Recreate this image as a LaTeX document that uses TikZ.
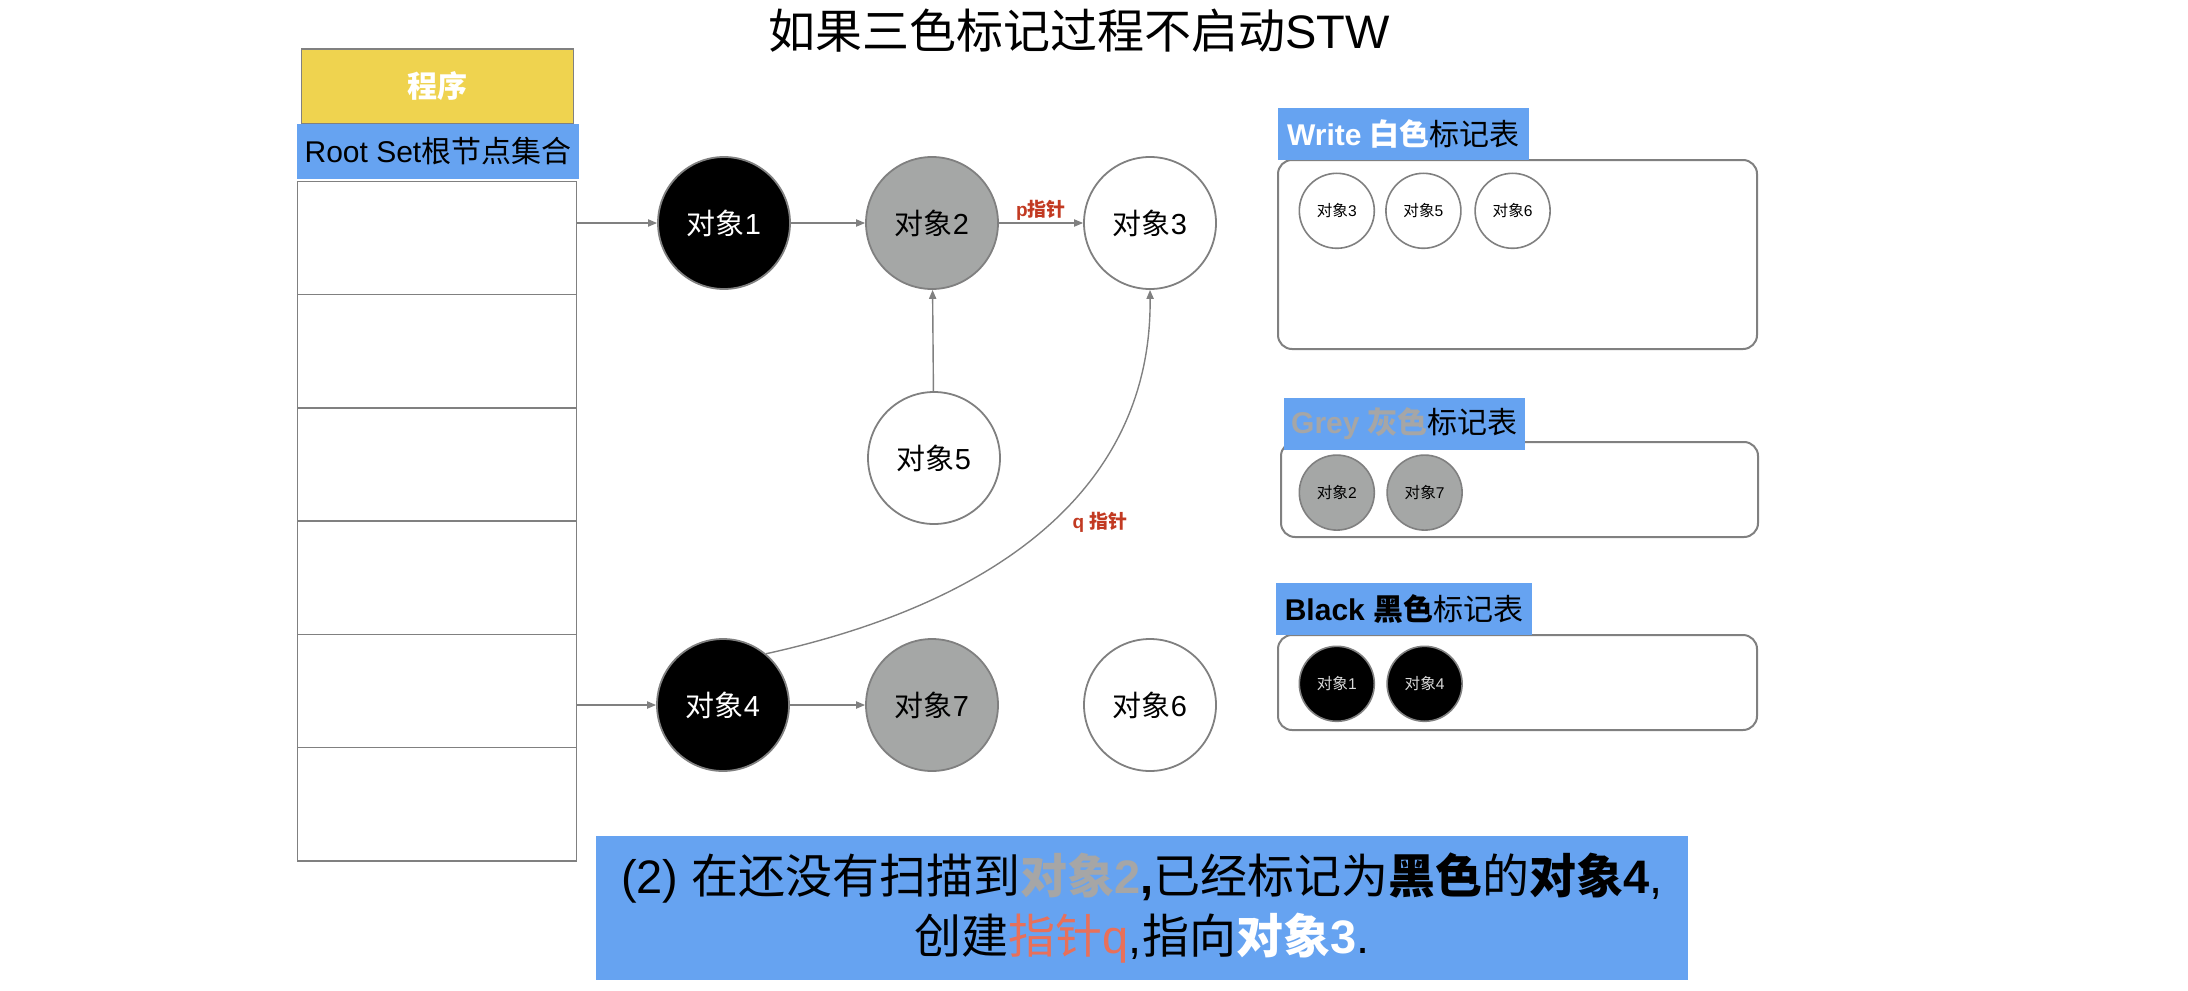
\documentclass[tikz,border=0pt]{standalone}
\usepackage{fontspec}
\setmainfont{Liberation Sans}
\newfontfamily\cjk{Noto Sans CJK SC}
\usetikzlibrary{arrows.meta}
\definecolor{progyellow}{HTML}{EFD34F}
\definecolor{lblblue}{HTML}{66A3F1}
\definecolor{objgrey}{HTML}{A5A7A6}
\definecolor{linegrey}{HTML}{808080}
\definecolor{ptrred}{HTML}{C23A22}
\definecolor{coral}{HTML}{E8705A}
\definecolor{txtgrey}{HTML}{A6A6A6}
\newcommand\zh[1]{{\cjk #1}}
\begin{document}
\begin{tikzpicture}[x=1pt,y=-1pt,
  obj/.style={circle, draw=linegrey, line width=0.9pt, minimum size=66pt, inner sep=0pt, font=\fontsize{14.5}{16}\selectfont},
  whiteobj/.style={obj, fill=white, text=black},
  greyobj/.style={obj, fill=objgrey, text=black},
  blackobj/.style={obj, fill=black, text=white},
  mini/.style={circle, draw=linegrey, line width=0.8pt, minimum size=37.5pt, inner sep=0pt, font=\fontsize{7.8}{9}\selectfont},
  miniwhite/.style={mini, fill=white, text=black},
  minigrey/.style={mini, fill=objgrey, text=black},
  miniblack/.style={mini, fill=black, text=white!85!black},
  rowbox/.style={draw=linegrey, line width=0.7pt, minimum width=139.6pt, minimum height=56.63pt, inner sep=0pt},
  arr/.style={draw=linegrey, line width=0.7pt, -{Triangle[length=4.5pt,width=3.6pt]}},
  ptr/.style={text=ptrred, font=\bfseries\fontsize{9.5}{11}\selectfont, inner sep=1pt},
  tlabel/.style={fill=lblblue, inner sep=0pt, minimum height=26pt, font=\fontsize{15}{17}\selectfont},
  tbox/.style={draw=linegrey, line width=1pt, rounded corners=7pt, fill=white, inner sep=0pt}
]
\useasboundingbox (0,0) rectangle (1094,495);

% title
\node[font=\fontsize{23.5}{26}\selectfont] (title) at (539.5,15.5) {\zh{如果三色标记过程不启动}STW};

% program and root set
\node[fill=progyellow, draw=linegrey, line width=0.8pt, minimum width=136pt, minimum height=37.7pt, text=white, font=\bfseries\fontsize{15}{17}\selectfont] (prog) at (218.75,43.25) {\zh{程序}};
\node[fill=lblblue, minimum width=141pt, minimum height=27.2pt, inner sep=0pt, font=\fontsize{15}{17}\selectfont] (root) at (219,75.7) {Root Set\zh{根节点集合}};

% table rows
\foreach \i in {1,...,6} {
  \node[rowbox] (row\i) at (218.4,{90.7+(\i-0.5)*56.63}) {};
}

% objects
\node[blackobj] (obj1) at (362,111.5) {\zh{对象}1};
\node[greyobj]  (obj2) at (466,111.5) {\zh{对象}2};
\node[whiteobj] (obj3) at (575,111.5) {\zh{对象}3};
\node[whiteobj] (obj5) at (467,229) {\zh{对象}5};
\node[blackobj] (obj4) at (361.5,352.5) {\zh{对象}4};
\node[greyobj]  (obj7) at (466,352.5) {\zh{对象}7};
\node[whiteobj] (obj6) at (575,352.5) {\zh{对象}6};

% connectors
\draw[arr] (row1.east |- obj1) -- (obj1);
\draw[arr] (obj1) -- (obj2);
\draw[arr] (obj2) -- node[above, ptr] (plabel) {p\zh{指针}} (obj3);
\draw[arr] (obj5) -- (obj2);
\draw[arr] (row5.east |- obj4) -- (obj4);
\draw[arr] (obj4) -- (obj7);
\draw[arr] (obj4.50) .. controls (505,300) and (576,240) .. (obj3.south);
\node[ptr] (qlabel) at (550,261) {q \zh{指针}};

% white table
\node[tbox, minimum width=239.5pt, minimum height=94.5pt] (wbox) at (758.75,127.25) {};
\node[tlabel, minimum width=125.5pt] (wlabel) at (701.75,67) {\textcolor{white}{\bfseries Write \zh{白色}}\zh{标记表}};
\node[miniwhite] (w3) at (668.4,105.4) {\zh{对象}3};
\node[miniwhite] (w5) at (711.7,105.4) {\zh{对象}5};
\node[miniwhite] (w6) at (756.3,105.4) {\zh{对象}6};

% grey table
\node[tbox, minimum width=238.5pt, minimum height=47.5pt] (gbox) at (759.75,244.75) {};
\node[tlabel, minimum width=120.5pt] (glabel) at (702.25,212) {\textcolor{txtgrey}{\bfseries Grey \zh{灰色}}\zh{标记表}};
\node[minigrey] (g2) at (668.4,246.3) {\zh{对象}2};
\node[minigrey] (g7) at (712.3,246.3) {\zh{对象}7};

% black table
\node[tbox, minimum width=239.5pt, minimum height=47.5pt] (bbox) at (758.75,341.25) {};
\node[tlabel, minimum width=128pt] (blabel) at (702,304.5) {{\bfseries Black \zh{黑色}}\zh{标记表}};
\node[miniblack] (b1) at (668.4,341.9) {\zh{对象}1};
\node[miniblack] (b4) at (712.3,341.9) {\zh{对象}4};

% bottom note
\node[fill=lblblue, minimum width=546pt, minimum height=72pt, align=center, inner sep=0pt, font=\fontsize{23.5}{30}\selectfont] (note) at (571,454)
 {(2) \zh{在还没有扫描到}\textcolor{txtgrey}{\bfseries\zh{对象}2}{\bfseries ,}\zh{已经标记为}{\bfseries\zh{黑色}}\zh{的}{\bfseries\zh{对象}4},\\
  \zh{创建}\textcolor{coral}{\zh{指针}q},\zh{指向}\textcolor{white}{\bfseries\zh{对象}3}.};
\end{tikzpicture}
\end{document}
